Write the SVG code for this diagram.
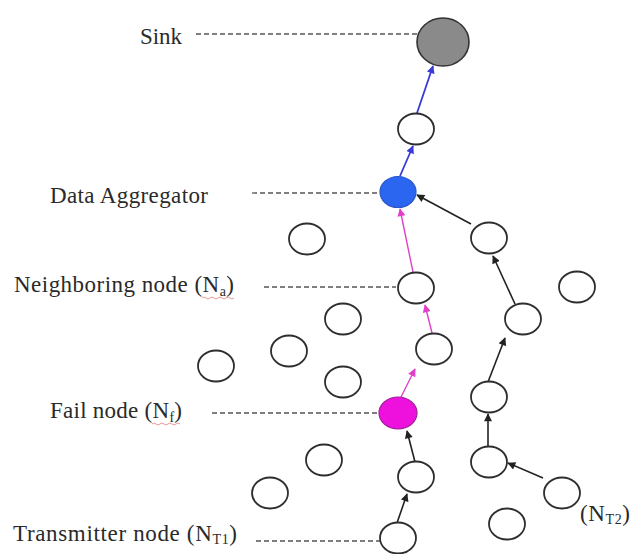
<svg xmlns="http://www.w3.org/2000/svg" width="630" height="554" viewBox="0 0 630 554">
  <style>
    .lbl { font-family: "Liberation Serif", "Times New Roman", serif; font-size: 23px; fill: #2a2a2a; }
    .sub { font-size: 14px; }
    .node { fill: #fff; stroke: #2e2e2e; stroke-width: 1.8; }
    .lead { stroke: #555; stroke-width: 1.3; stroke-dasharray: 5 3; fill: none; }
    .blk { stroke: #222; stroke-width: 1.6; fill: none; }
    .blu { stroke: #3a3ad8; stroke-width: 1.8; fill: none; }
    .mag { stroke: #e040c8; stroke-width: 1.4; fill: none; }
    .squig { stroke: #e07070; stroke-width: 0.9; fill: none; opacity: 0.8; }
  </style>
  <defs>
    <marker id="ahBlk" viewBox="0 0 10 10" refX="9" refY="5" markerWidth="9" markerHeight="8" markerUnits="userSpaceOnUse" orient="auto">
      <path d="M0,0 L10,5 L0,10 z" fill="#222"/>
    </marker>
    <marker id="ahBlu" viewBox="0 0 10 10" refX="9" refY="5" markerWidth="9" markerHeight="8" markerUnits="userSpaceOnUse" orient="auto">
      <path d="M0,0 L10,5 L0,10 z" fill="#3a3ad8"/>
    </marker>
    <marker id="ahMag" viewBox="0 0 10 10" refX="9" refY="5" markerWidth="9" markerHeight="8" markerUnits="userSpaceOnUse" orient="auto">
      <path d="M0,0 L10,5 L0,10 z" fill="#e040c8"/>
    </marker>
  </defs>
  <rect width="630" height="554" fill="#fff"/>

  <!-- labels with dashed leader lines -->
  <g id="labels">
    <text class="lbl" x="140" y="44" textLength="42">Sink</text>
    <line class="lead" x1="196" y1="34" x2="418" y2="34"/>

    <text class="lbl" x="50" y="203" textLength="158">Data Aggregator</text>
    <line class="lead" x1="252" y1="193" x2="380" y2="193"/>

    <text class="lbl" x="14" y="292" textLength="220">Neighboring node (N<tspan class="sub" dy="4">a</tspan><tspan dy="-4">)</tspan></text>
    <path class="squig" d="M202,298 q2,-2 4,0 t4,0 t4,0 t4,0 t4,0 t4,0 t4,0 t4,0"/>
    <line class="lead" x1="264" y1="287" x2="396" y2="287"/>

    <text class="lbl" x="50" y="418" textLength="132">Fail node (N<tspan class="sub" dy="4">f</tspan><tspan dy="-4">)</tspan></text>
    <path class="squig" d="M152,424 q2,-2 4,0 t4,0 t4,0 t4,0 t4,0 t4,0 t4,0"/>
    <line class="lead" x1="212" y1="413" x2="380" y2="413"/>

    <text class="lbl" x="13" y="541" textLength="224">Transmitter node (N<tspan class="sub" dy="3">T1</tspan><tspan dy="-3">)</tspan></text>
    <line class="lead" x1="256" y1="541" x2="380" y2="541"/>

    <text class="lbl" x="580" y="521" textLength="50">(N<tspan class="sub" dy="3">T2</tspan><tspan dy="-3">)</tspan></text>
  </g>

  <!-- connectors -->
  <g id="connectors">
    <line class="blu" x1="417" y1="113" x2="433" y2="66" marker-end="url(#ahBlu)"/>
    <line class="blu" x1="400" y1="176" x2="413" y2="146" marker-end="url(#ahBlu)"/>
    <line class="blk" x1="471" y1="224" x2="417" y2="195" marker-end="url(#ahBlk)"/>
    <line class="mag" x1="413" y1="272" x2="400" y2="209" marker-end="url(#ahMag)"/>
    <line class="blk" x1="515" y1="304" x2="493" y2="256" marker-end="url(#ahBlk)"/>
    <line class="mag" x1="432" y1="333" x2="425" y2="305" marker-end="url(#ahMag)"/>
    <line class="blk" x1="488" y1="382" x2="505" y2="338" marker-end="url(#ahBlk)"/>
    <line class="mag" x1="401" y1="397" x2="415" y2="369" marker-end="url(#ahMag)"/>
    <line class="blk" x1="415" y1="462" x2="407" y2="431" marker-end="url(#ahBlk)"/>
    <line class="blk" x1="488" y1="446" x2="488" y2="414" marker-end="url(#ahBlk)"/>
    <line class="blk" x1="543" y1="478" x2="508" y2="463" marker-end="url(#ahBlk)"/>
    <line class="blk" x1="397" y1="523" x2="407" y2="494" marker-end="url(#ahBlk)"/>
  </g>

  <!-- sensor nodes -->
  <g id="sink"><ellipse cx="443" cy="42" rx="26" ry="24" fill="#8a8a8a" stroke="#333" stroke-width="1.6"/></g>
  <g id="relay"><ellipse class="node" cx="416" cy="129" rx="18" ry="15.5"/></g>
  <g id="aggregator"><ellipse cx="398" cy="192" rx="18" ry="15.5" fill="#2b66f0" stroke="#2b55c8" stroke-width="1.2"/></g>
  <g id="n4"><ellipse class="node" cx="307" cy="239" rx="18" ry="15.5"/></g>
  <g id="n5"><ellipse class="node" cx="489" cy="238" rx="18" ry="15.5"/></g>
  <g id="neighbor"><ellipse class="node" cx="416" cy="288" rx="18" ry="15.5"/></g>
  <g id="n7"><ellipse class="node" cx="577" cy="287" rx="18" ry="15.5"/></g>
  <g id="n8"><ellipse class="node" cx="523" cy="319" rx="18" ry="15.5"/></g>
  <g id="n9"><ellipse class="node" cx="343" cy="319" rx="18" ry="15.5"/></g>
  <g id="n10"><ellipse class="node" cx="434" cy="349" rx="18" ry="15.5"/></g>
  <g id="n11"><ellipse class="node" cx="289" cy="351" rx="18" ry="15.5"/></g>
  <g id="n12"><ellipse class="node" cx="216" cy="366" rx="18" ry="15.5"/></g>
  <g id="n13"><ellipse class="node" cx="343" cy="382" rx="18" ry="15.5"/></g>
  <g id="fail"><ellipse cx="398" cy="413" rx="19" ry="16" fill="#ee11dd" stroke="#a0209a" stroke-width="1.2"/></g>
  <g id="n15"><ellipse class="node" cx="489" cy="397" rx="18" ry="15.5"/></g>
  <g id="n16"><ellipse class="node" cx="416" cy="477" rx="18" ry="15.5"/></g>
  <g id="n17"><ellipse class="node" cx="489" cy="462" rx="18" ry="15.5"/></g>
  <g id="n18"><ellipse class="node" cx="324" cy="460" rx="18" ry="15.5"/></g>
  <g id="n19"><ellipse class="node" cx="270" cy="493" rx="18" ry="15.5"/></g>
  <g id="transmitter2"><ellipse class="node" cx="562" cy="493" rx="18" ry="15.5"/></g>
  <g id="n21"><ellipse class="node" cx="507" cy="524" rx="18" ry="15.5"/></g>
  <g id="transmitter1"><ellipse class="node" cx="398" cy="538" rx="18" ry="15.5"/></g>
</svg>
